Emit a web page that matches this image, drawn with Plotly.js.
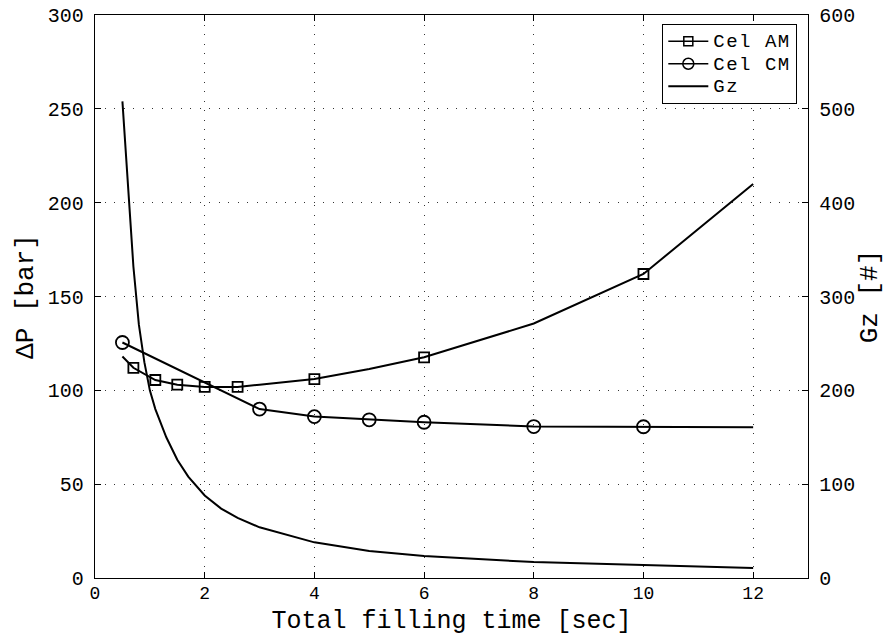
<!DOCTYPE html>
<html>
<head>
<meta charset="utf-8">
<script src="https://cdn.plot.ly/plotly-3.0.1.min.js"></script>
<style>
  html, body { margin: 0; padding: 0; background: #fff; }
  #chart { width: 885px; height: 637px; }
  .legendtext { font-size: 19px !important; letter-spacing: 1.5px; }
</style>
</head>
<body>
<div id="chart"></div>
<script>
// ---- Data ----
// Cel AM curve (left axis, ΔP [bar])
const amLineTime   = [0.5, 0.7, 1.1, 1.5, 2.0, 2.6, 3.0, 4.0, 5.0, 6.0, 8.0, 10.0, 12.0];
const amLineDP     = [118, 112, 105.5, 103, 101.8, 101.8, 103, 106, 111.4, 117.6, 135.6, 162, 210];
const amMarkTime   = [0.7, 1.1, 1.5, 2.0, 2.6, 4.0, 6.0, 10.0];
const amMarkDP     = [112, 105.5, 103, 101.8, 101.8, 106, 117.6, 162];

// Cel CM curve (left axis, ΔP [bar])
const cmLineTime   = [0.5, 3.0, 4.0, 5.0, 6.0, 8.0, 10.0, 12.0];
const cmLineDP     = [125.5, 90, 86, 84.3, 83, 80.7, 80.6, 80.3];
const cmMarkTime   = [0.5, 3.0, 4.0, 5.0, 6.0, 8.0, 10.0];
const cmMarkDP     = [125.5, 90, 86, 84.3, 83, 80.7, 80.6];

// Gz curve (right axis, Gz [#])
const gzTime = [0.5, 0.6, 0.7, 0.8, 0.9, 1.0, 1.1, 1.3, 1.5, 1.7, 2.0, 2.3, 2.6, 3.0, 4.0, 5.0, 6.0, 8.0, 10.0, 12.0];
const gzVal  = [508, 416, 332, 270, 230, 200, 180, 150, 126, 108, 88, 74, 64, 54, 38, 28.8, 23.4, 17, 13.6, 10.6];

// Labels
const seriesNames = ['Cel AM', 'Cel CM', 'Gz'];
const xTitle  = 'Total filling time [sec]';
const y1Title = 'ΔP [bar]';
const y2Title = 'Gz [#]';

// ---- Styles ----
const FONT = '"Liberation Mono", "Courier New", monospace';
const lineStyle = {color: '#000', width: 2};

const traces = [
  // curves (no legend entries)
  {x: amLineTime, y: amLineDP, mode: 'lines', line: lineStyle, showlegend: false, hoverinfo: 'skip'},
  {x: amMarkTime, y: amMarkDP, mode: 'markers', showlegend: false,
   marker: {symbol: 'square-open', size: 10, color: '#000', line: {width: 1.8, color: '#000'}}},
  {x: cmLineTime, y: cmLineDP, mode: 'lines', line: lineStyle, showlegend: false, hoverinfo: 'skip'},
  {x: cmMarkTime, y: cmMarkDP, mode: 'markers', showlegend: false,
   marker: {symbol: 'circle-open', size: 13, color: '#000', line: {width: 1.8, color: '#000'}}},
  // legend-only entries
  {x: [null], y: [null], mode: 'lines+markers', name: seriesNames[0], line: {color: '#000', width: 1.5},
   marker: {symbol: 'square-open', size: 9, color: '#000', line: {width: 1.5, color: '#000'}}},
  {x: [null], y: [null], mode: 'lines+markers', name: seriesNames[1], line: {color: '#000', width: 1.5},
   marker: {symbol: 'circle-open', size: 11, color: '#000', line: {width: 1.5, color: '#000'}}},
  // Gz on right axis
  {x: gzTime, y: gzVal, mode: 'lines', name: seriesNames[2], yaxis: 'y2', line: lineStyle}
];

const axisCommon = {
  showline: true, linecolor: '#000', linewidth: 1.2,
  ticks: 'inside', ticklen: 6, tickcolor: '#000', tickwidth: 1,
  zeroline: false,
  tickfont: {family: FONT, size: 20, color: '#000'}
};

const layout = {
  width: 885, height: 637,
  margin: {l: 95, r: 77, t: 15, b: 59, pad: 0},
  paper_bgcolor: '#fff', plot_bgcolor: '#fff',
  font: {family: FONT, color: '#000'},
  showlegend: true,
  xaxis: Object.assign({}, axisCommon, {
    range: [0, 13], tick0: 0, dtick: 2, mirror: 'ticks',
    showgrid: true, gridcolor: '#333', gridwidth: 1, griddash: '1px,8.5px',
    ticklabelstandoff: -2,
    tickfont: {family: FONT, size: 18, color: '#000'},
    title: {text: xTitle, font: {family: FONT, size: 25, color: '#000'}, standoff: 7}
  }),
  yaxis: Object.assign({}, axisCommon, {
    range: [0, 300], tick0: 0, dtick: 50, mirror: false,
    showgrid: true, gridcolor: '#333', gridwidth: 1, griddash: '1px,8.5px',
    ticklabelstandoff: 6,
    title: {text: y1Title, font: {family: FONT, size: 26, color: '#000'}, standoff: 6}
  }),
  yaxis2: Object.assign({}, axisCommon, {
    range: [0, 600], tick0: 0, dtick: 100, overlaying: 'y', side: 'right',
    showgrid: false, ticklabelstandoff: 6,
    title: {text: y2Title, font: {family: FONT, size: 26, color: '#000'}, standoff: 8}
  }),
  legend: {
    x: 0.985, xanchor: 'right', y: 0.984, yanchor: 'top',
    bgcolor: '#fff', bordercolor: '#000', borderwidth: 1,
    font: {family: FONT, size: 15, color: '#000'},
    itemwidth: 40,
    traceorder: 'normal'
  }
};

Plotly.newPlot('chart', traces, layout, {displayModeBar: false, staticPlot: true});
</script>
</body>
</html>
